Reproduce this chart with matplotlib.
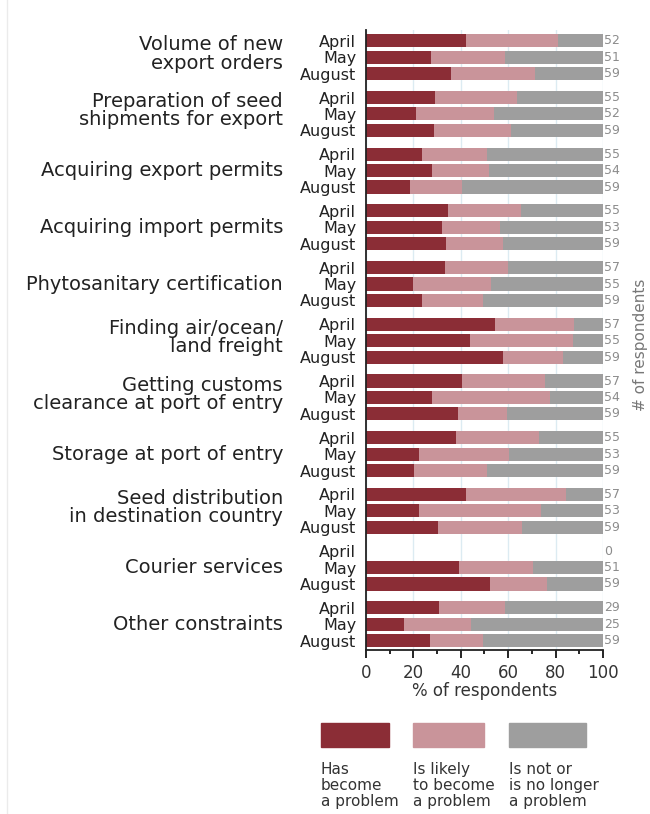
import matplotlib
matplotlib.use("Agg")
import matplotlib.pyplot as plt
import matplotlib.transforms as mtransforms
from matplotlib.patches import Rectangle
from matplotlib.lines import Line2D

# constraint categories, top to bottom
categories = [
    "Volume of new\nexport orders",
    "Preparation of seed\nshipments for export",
    "Acquiring export permits",
    "Acquiring import permits",
    "Phytosanitary certification",
    "Finding air/ocean/\nland freight",
    "Getting customs\nclearance at port of entry",
    "Storage at port of entry",
    "Seed distribution\nin destination country",
    "Courier services",
    "Other constraints",
]
months = ["April", "May", "August"]

# % of respondents, rows ordered category by category (April, May, August)
has_problem = [42.1, 27.4, 35.8, 29.1, 20.9, 28.8, 23.6, 27.8, 18.5, 34.4, 31.9,
               33.7, 33.4, 19.9, 23.7, 54.4, 43.7, 57.7, 40.3, 27.8, 39.0, 38.1,
               22.5, 20.2, 42.0, 22.5, 30.2, 0, 39.2, 52.5, 30.9, 16.0, 27.0]
likely_problem = [38.9, 31.4, 35.7, 34.7, 32.9, 32.2, 27.5, 24.2, 22.2, 31.2, 24.8,
                  24.2, 26.4, 33.0, 25.5, 33.4, 43.7, 25.4, 35.4, 49.9, 20.6, 34.7,
                  37.9, 30.9, 42.3, 51.2, 35.8, 0, 31.3, 23.8, 27.8, 28.1, 22.2]
not_problem = [19.0, 41.2, 28.5, 36.2, 46.2, 39.0, 48.9, 48.0, 59.3, 34.4, 43.3,
               42.1, 40.2, 47.1, 50.8, 12.2, 12.6, 16.9, 24.3, 22.3, 40.4, 27.2,
               39.6, 48.9, 15.7, 26.3, 34.0, 0, 29.5, 23.7, 41.3, 55.9, 50.8]
n_respondents = [52, 51, 59, 55, 52, 59, 55, 54, 59, 55, 53, 59, 57, 55, 59, 57, 55,
                 59, 57, 54, 59, 55, 53, 59, 57, 53, 59, 0, 51, 59, 29, 25, 59]

legend_labels = ["Has\nbecome\na problem", "Is likely\nto become\na problem",
                 "Is not or\nis no longer\na problem"]
colors = ["#8b2d36", "#c9949a", "#9e9e9e"]

W, H = 650, 814
fig = plt.figure(figsize=(W / 100, H / 100), dpi=100)
ax = fig.add_axes([366 / W, (H - 650) / H, (603 - 366) / W, 620 / H])

group_step = 3.46
ypos = [g * group_step + m for g in range(len(categories)) for m in range(len(months))]

left = [0] * len(ypos)
for vals, col in zip([has_problem, likely_problem, not_problem], colors):
    ax.barh(ypos, vals, left=left, height=0.8, color=col, zorder=2)
    left = [l + v for l, v in zip(left, vals)]

for y, n in zip(ypos, n_respondents):
    ax.text(100.4, y, str(n), va="center", ha="left", fontsize=9,
            color="#8c8c8c", clip_on=False)

ax.set_ylim(10 * group_step + 2 + 0.57, -0.66)
ax.set_xlim(0, 100)
ax.set_yticks(ypos)
ax.set_yticklabels(months * len(categories), fontsize=11.5, color="#222222")
ax.tick_params(axis="y", length=0, pad=7)

ax.set_xticks(range(0, 101, 20))
ax.set_xticks(range(10, 100, 20), minor=True)
ax.tick_params(axis="x", which="major", length=6, width=1.2, labelsize=12,
               labelcolor="#333333", pad=4)
ax.tick_params(axis="x", which="minor", length=3, width=1.2)
ax.set_xlabel("% of respondents", fontsize=12, color="#333333", labelpad=0)

ax.grid(axis="x", color="#dcebf2", lw=1)
ax.set_axisbelow(True)
for s in ["top", "right"]:
    ax.spines[s].set_visible(False)
for s in ["left", "bottom"]:
    ax.spines[s].set_linewidth(1.3)
    ax.spines[s].set_color("#222222")

# category labels at the left
trans = mtransforms.blended_transform_factory(fig.transFigure, ax.transData)
for g, cat in enumerate(categories):
    off = -0.2 if "\n" in cat else 0
    ax.text(283 / W, g * group_step + 1 + off, cat, transform=trans, ha="right",
            va="center", fontsize=14, linespacing=0.95, color="#222222")

fig.text(640 / W, 1 - 345 / H, "# of respondents", rotation=90, fontsize=11,
         color="#777777", ha="center", va="center")

# legend below the chart
box_x = [321, 413, 509]
box_w = [68, 71, 77]
for x0, w, col, lab in zip(box_x, box_w, colors, legend_labels):
    fig.add_artist(Rectangle((x0 / W, 1 - 747 / H), w / W, 24 / H,
                             transform=fig.transFigure, color=col))
    fig.text(x0 / W, 1 - 762 / H, lab, fontsize=11, color="#333333",
             ha="left", va="top", linespacing=1.08)

fig.add_artist(Line2D([7 / W, 7 / W], [0, 1], transform=fig.transFigure,
                      color="#ebebeb", lw=1))

fig.savefig("out.png", dpi=100, facecolor="white")
